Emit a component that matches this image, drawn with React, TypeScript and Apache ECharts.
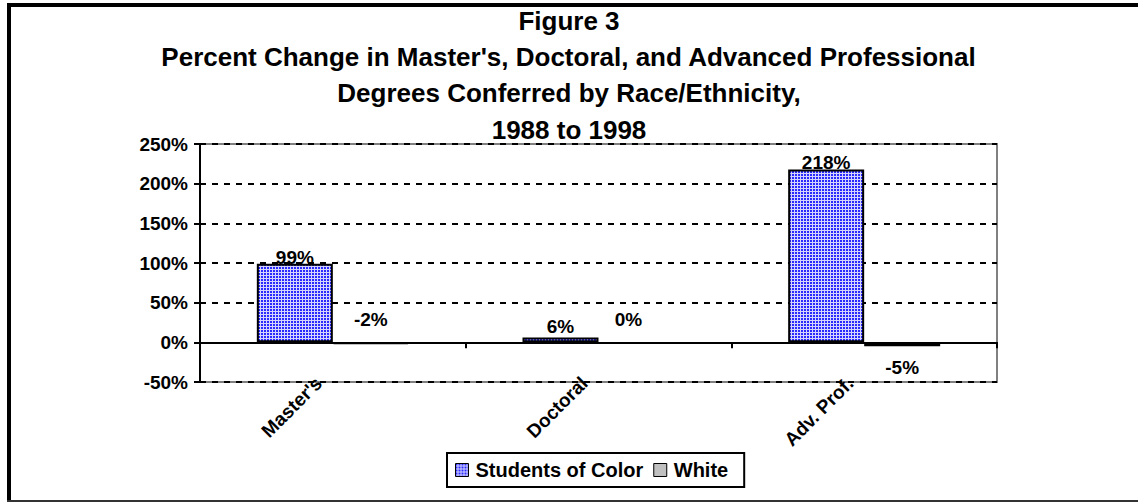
import React, { useEffect, useRef } from "react";
import * as echarts from "echarts";

const categories = ["Master's", "Doctoral", "Adv. Prof."];
const studentsOfColor = [99, 6, 218];
const white = [-2, 0, -5];
const yTicks = [-50, 0, 50, 100, 150, 200, 250];
const titleLines = [
  "Figure 3",
  "Percent Change in Master's, Doctoral, and Advanced Professional",
  "Degrees Conferred by Race/Ethnicity,",
  "1988 to 1998",
];
const titleY = [22, 58, 94, 131];

const FONT = "'Liberation Sans', Arial, sans-serif";

function makePattern(): any {
  const c = document.createElement("canvas");
  c.width = 3;
  c.height = 3;
  const ctx = c.getContext("2d")!;
  ctx.fillStyle = "#d4d4ff";
  ctx.fillRect(0, 0, 3, 3);
  ctx.fillStyle = "#2a2aff";
  ctx.fillRect(0, 0, 2, 2);
  return { image: c, repeat: "repeat" };
}

export default function App() {
  const ref = useRef<HTMLDivElement>(null);
  useEffect(() => {
    if (!ref.current) return;
    const chart = echarts.init(ref.current, null, { renderer: "svg" });
    const pattern = makePattern();
    const labelStyle = {
      show: true,
      fontFamily: FONT,
      fontWeight: "bold" as const,
      fontSize: 19,
      color: "#000",
      formatter: (p: any) => p.value + "%",
    };
    chart.setOption({
      animation: false,
      backgroundColor: "#fff",
      textStyle: { fontFamily: FONT },
      grid: {
        left: 200,
        right: 141,
        top: 144,
        bottom: 121,
        show: true,
        borderColor: "#808080",
        borderWidth: 2,
        backgroundColor: "transparent",
      },
      legend: {
        data: ["Students of Color", "White"],
        left: 447,
        top: 453,
        padding: [7, 16, 7, 8],
        borderColor: "#000",
        borderWidth: 2,
        itemWidth: 13,
        itemHeight: 13,
        itemGap: 10,
        itemStyle: { borderColor: "#000", borderWidth: 1 },
        textStyle: {
          fontFamily: FONT,
          fontWeight: "bold",
          fontSize: 20,
          color: "#000",
          padding: [0, 0, 0, 2],
        },
        icon: "rect",
      },
      xAxis: [
        {
          type: "category",
          data: categories,
          position: "bottom",
          axisLine: { show: false, onZero: false },
          axisTick: { show: false },
          axisLabel: {
            rotate: 45,
            margin: -16,
            padding: [0, 20, 0, 0],
            fontFamily: FONT,
            fontWeight: "bold",
            fontSize: 19,
            color: "#000",
          },
        },
        {
          type: "category",
          data: categories,
          position: "bottom",
          axisLine: { show: true, onZero: true, lineStyle: { color: "#000", width: 2 } },
          axisTick: { show: true, length: 6, lineStyle: { color: "#000", width: 2 } },
          axisLabel: { show: false },
        },
      ],
      yAxis: {
        type: "value",
        min: -50,
        max: 250,
        interval: 50,
        axisLine: { show: true, lineStyle: { color: "#000", width: 2 } },
        axisTick: { show: true, length: 6, lineStyle: { color: "#000", width: 2 } },
        axisLabel: {
          margin: 12,
          fontFamily: FONT,
          fontWeight: "bold",
          fontSize: 19,
          color: "#000",
          formatter: (v: number) => (yTicks.includes(v) ? v + "%" : ""),
        },
        splitLine: {
          show: true,
          lineStyle: { color: "#000", width: 2, type: [6, 6] },
        },
      },
      series: [
        {
          name: "Students of Color",
          type: "bar",
          xAxisIndex: 0,
          data: studentsOfColor.map((v, i) => ({
            value: v,
            label: { distance: i === 1 ? 2 : -3 },
          })),
          barWidth: 76,
          barGap: "0%",
          itemStyle: { color: pattern, borderColor: "#000", borderWidth: 2 },
          label: { ...labelStyle, position: "top" },
        },
        {
          name: "White",
          type: "bar",
          xAxisIndex: 0,
          data: white.map((v, i) => ({
            value: v,
            itemStyle: v === 0 ? { borderWidth: 0 } : undefined,
            label:
              i === 2
                ? { position: "bottom", distance: 12 }
                : { position: "top", distance: 13, offset: [i === 1 ? -8 : 0, 0] },
          })),
          barWidth: 76,
          barGap: "0%",
          itemStyle: { color: "#c0c0c0", borderColor: "#000", borderWidth: 2 },
          label: { ...labelStyle },
        },
      ],
      graphic: [
        ...titleLines.map((t, i) => ({
          type: "text",
          left: "center",
          top: titleY[i] - 14,
          style: {
            text: t,
            fontFamily: FONT,
            fontWeight: "bold",
            fontSize: 26,
            fill: "#000",
          },
          z: 10,
        })),
        { type: "line", shape: { x1: 9, y1: 3, x2: 9, y2: 502 }, style: { stroke: "#000", lineWidth: 4 } },
        { type: "line", shape: { x1: 7, y1: 5, x2: 1138, y2: 5 }, style: { stroke: "#000", lineWidth: 4 } },
        { type: "line", shape: { x1: 7, y1: 501, x2: 1138, y2: 501 }, style: { stroke: "#333", lineWidth: 2 } },
      ],
    });
    return () => chart.dispose();
  }, []);
  return (
    <div
      ref={ref}
      style={{ position: "fixed", left: 0, top: 0, width: 1138, height: 503 }}
    />
  );
}
